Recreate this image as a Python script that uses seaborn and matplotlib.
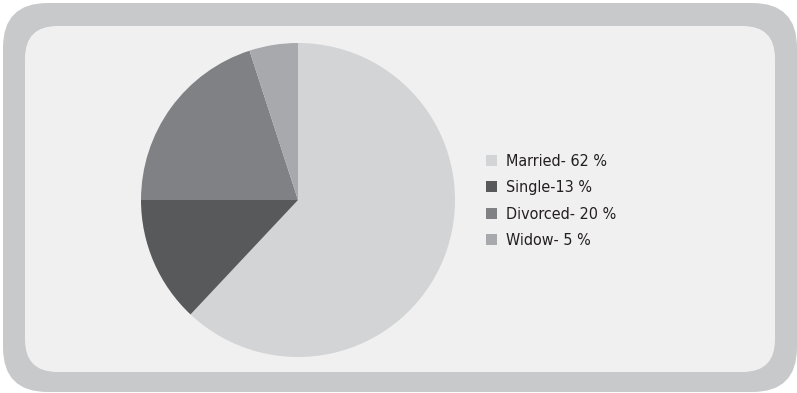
import matplotlib
matplotlib.use("Agg")
import matplotlib.pyplot as plt
from matplotlib.patches import FancyBboxPatch, Patch
import seaborn as sns

categories = ["Married", "Single", "Divorced", "Widow"]
shares = [62, 13, 20, 5]
labels = ["Married- 62 %", "Single-13 %", "Divorced- 20 %", "Widow- 5 %"]
colors = ["#d3d4d6", "#58595b", "#808184", "#a7a9ac"]

sns.set_theme(style="white")
plt.rcParams["font.family"] = ["DejaVu Sans"]
plt.rcParams["font.stretch"] = "condensed"

W, H = 797, 393
fig = plt.figure(figsize=(W / 100, H / 100), dpi=100)
fig.patch.set_facecolor("white")

# outer frame and inner panel (pixel coordinates converted to figure fraction)
def frame(x0, y0, x1, y1, r, color):
    box = FancyBboxPatch((x0 / W, 1 - y1 / H), (x1 - x0) / W, (y1 - y0) / H,
                         boxstyle=f"round,pad=0,rounding_size={r / H}",
                         transform=fig.transFigure, facecolor=color,
                         edgecolor="none", mutation_aspect=W / H, zorder=-5)
    fig.patches.append(box)

frame(3, 3, 797, 392, 22, "#c8c9cb")
frame(25, 26, 775, 372, 16, "#f0f0f0")

# pie axes
cx, cy, r = 298, 200, 157
ax = fig.add_axes([(cx - r) / W, 1 - (cy + r) / H, 2 * r / W, 2 * r / H])
ax.set_zorder(5)
ax.patch.set_alpha(0)
ax.pie(shares, colors=colors, startangle=90, counterclock=False,
       wedgeprops=dict(linewidth=0))
ax.set_aspect("auto")
ax.set_xlim(-1, 1)
ax.set_ylim(-1, 1)
ax.axis("off")

handles = [Patch(facecolor=c, edgecolor="none") for c in colors]
leg = fig.legend(handles, labels, loc="upper left",
                 bbox_to_anchor=(472 / W, 1 - 139.5 / H), frameon=False,
                 prop=dict(family="DejaVu Sans", stretch="condensed", size=11.5),
                 handlelength=0.65, handleheight=0.65,
                 handletextpad=0.55, labelspacing=0.72, labelcolor="#231f20")
leg.set_zorder(6)

fig.savefig("out.png", dpi=100, facecolor="white")
